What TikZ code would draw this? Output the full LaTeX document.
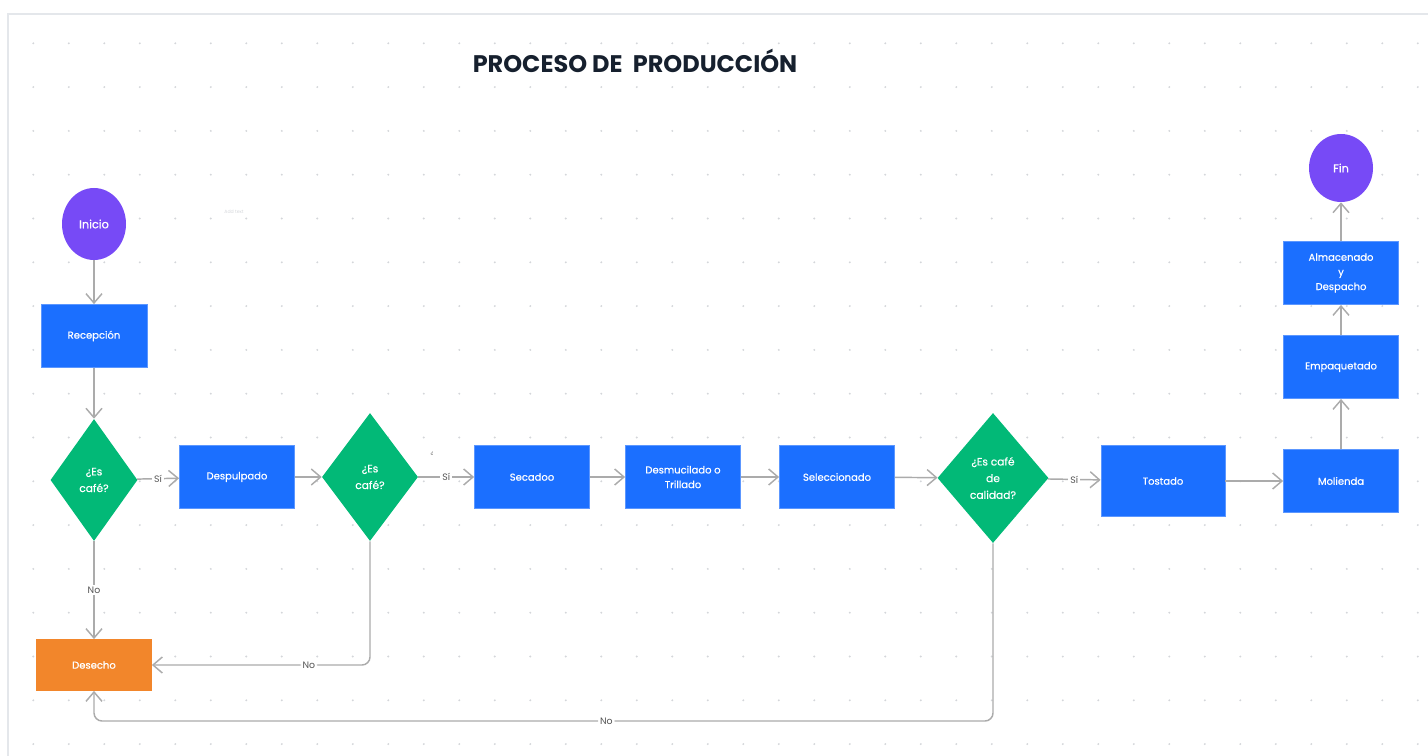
\documentclass[tikz,border=0pt]{standalone}
\usepackage{fontspec}
\setmainfont{Poppins}
\newfontfamily\boxfont{Poppins}[FakeBold=0.5]
\usetikzlibrary{positioning,shapes.geometric,arrows.meta}

\definecolor{procblue}{HTML}{1B6FFF}
\definecolor{procedge}{HTML}{5C97FF}
\definecolor{askgreen}{HTML}{02B977}
\definecolor{endpurple}{HTML}{774AF6}
\definecolor{wasteorange}{HTML}{F2862B}
\definecolor{linegray}{HTML}{ABABAB}
\definecolor{labelgray}{HTML}{555555}
\definecolor{dotgray}{HTML}{D4D6DA}
\definecolor{framegray}{HTML}{E4E7EB}
\definecolor{titlenavy}{HTML}{16202E}

\newdimen\pxu \pxu=0.75pt

\begin{document}
\begin{tikzpicture}[x=0.75pt, y=-0.75pt,
    proc/.style={draw=procedge, line width=0.6pt, fill=procblue, text=white,
        minimum width=115\pxu, minimum height=63\pxu, align=center,
        font=\boxfont\fontsize{7.5}{11}\selectfont},
    decision/.style={diamond, fill=askgreen, text=white, inner sep=0pt,
        align=center, font=\boxfont\fontsize{8}{12.5}\selectfont},
    startend/.style={ellipse, fill=endpurple, text=white, minimum width=64\pxu,
        font=\boxfont\fontsize{8.5}{10}\selectfont},
    flow/.style={draw=linegray, line width=1.1pt,
        -{Straight Barb[length=7pt,width=12pt]}},
    lbl/.style={fill=white, text=labelgray, inner sep=1.5pt,
        font=\fontsize{7}{8}\selectfont},
    ]
    \useasboundingbox (0,0) rectangle (1428,756);

    % fondo de puntos y marco
    \foreach \i in {0,...,39}
        \foreach \j in {0,...,16}
            \fill[dotgray] (33.3+35.5*\i, 43.3+43.8*\j) circle[radius=0.8pt];
    \draw[framegray, line width=1.4pt] (8,760) -- (8,14) -- (1430,14);

    \node[font=\bfseries\fontsize{18}{20}\selectfont, text=titlenavy] (titulo) at (635,61)
        {PROCESO DE\ \ PRODUCCIÓN};
    \node[text=dotgray, font=\fontsize{3.5}{4}\selectfont] (nota) at (234,212) {Add text};
    \node[text=labelgray, font=\fontsize{4}{4}\selectfont] (marca) at (432,453) {¿};

    \node[startend, minimum height=72\pxu] (inicio) at (94,224) {Inicio};
    \node[proc, minimum width=106\pxu] (recep) at (94,336) {Recepción};
    \node[decision, minimum width=87\pxu, minimum height=122\pxu] (cafe1) at (94,480) {¿Es\\café?};
    \node[proc] (despulp) at (237,477) {Despulpado};
    \node[decision, minimum width=96\pxu, minimum height=128\pxu] (cafe2) at (370,477) {¿Es\\café?};
    \node[proc] (secado) at (532,477) {Secadoo};
    \node[proc] (desmuc) at (683,477) {Desmucilado o\\Trillado};
    \node[proc] (selecc) at (837,477) {Seleccionado};
    \node[decision, minimum width=111\pxu, minimum height=130\pxu] (calidad) at (993,478) {¿Es café\\de\\calidad?};
    \node[proc, minimum width=124\pxu, minimum height=71\pxu] (tostado) at (1163,481) {Tostado};
    \node[proc] (molienda) at (1341,481) {Molienda};
    \node[proc] (empaq) at (1341,367) {Empaquetado};
    \node[proc] (almac) at (1341,273) {Almacenado\\y\\Despacho};
    \node[startend, minimum height=68\pxu] (fin) at (1341,168) {Fin};
    \node[proc, draw=wasteorange, fill=wasteorange, minimum height=51\pxu] (desecho) at (94,665) {Desecho};
    \coordinate (retorno) at (94,721);

    \draw[flow] (inicio) -- (recep);
    \draw[flow] (recep) -- (cafe1);
    \draw[flow] (cafe1) -- node[lbl] {Sí} (despulp);
    \draw[flow] (cafe1) -- node[lbl] {No} (desecho);
    \draw[flow] (despulp) -- (cafe2);
    \draw[flow] (cafe2) -- node[lbl] {Sí} (secado);
    \draw[flow, rounded corners=6pt] (cafe2.south) |- node[lbl, pos=0.64] {No} (desecho.east);
    \draw[flow] (secado) -- (desmuc);
    \draw[flow] (desmuc) -- (selecc);
    \draw[flow] (selecc) -- (calidad);
    \draw[flow] (calidad) -- node[lbl] {Sí} (tostado);
    \draw[flow, rounded corners=6pt] (calidad.south) |- node[lbl, pos=0.715] {No} (retorno) -- (desecho.south);
    \draw[flow] (tostado) -- (molienda);
    \draw[flow] (molienda) -- (empaq);
    \draw[flow] (empaq) -- (almac);
    \draw[flow] (almac) -- (fin);
\end{tikzpicture}
\end{document}
